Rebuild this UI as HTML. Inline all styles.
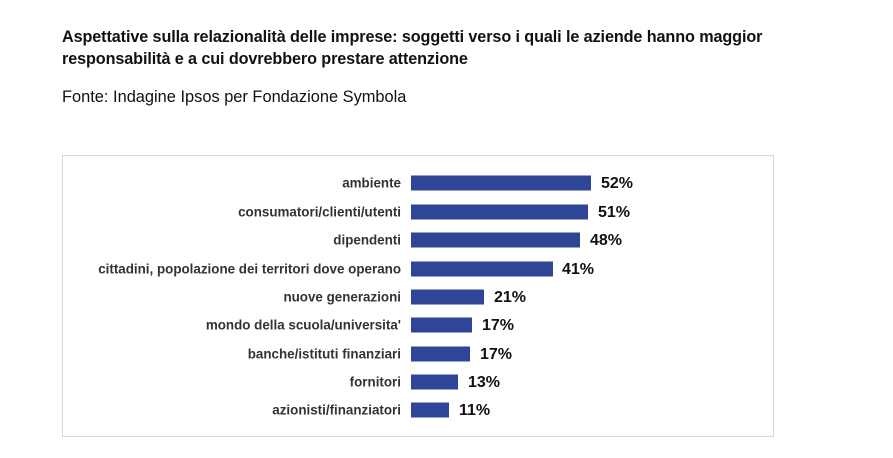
<!DOCTYPE html>
<html><head><meta charset="utf-8"><style>
body{margin:0;width:893px;height:458px;background:#fff;position:relative;overflow:hidden;font-family:"Liberation Sans",sans-serif;}
.t{position:absolute;left:62px;font-size:16px;color:#111;white-space:nowrap}
.box{position:absolute;left:62px;top:155px;width:712px;height:282px;border:1px solid #d8d8d8;box-sizing:border-box}
.lab{position:absolute;right:492px;font-size:13.4px;font-weight:bold;color:#333;white-space:nowrap;transform:translateY(-50%)}
.bar{position:absolute;left:411px;height:15px;background:#2e4598;transform:translateY(-50%)}
.v{position:absolute;font-size:16px;font-weight:bold;color:#111;transform:translateY(-50%)}
</style></head><body>
<div class="t" style="top:28px;font-weight:bold;font-size:16.2px;letter-spacing:-0.1px">Aspettative sulla relazionalità delle imprese: soggetti verso i quali le aziende hanno maggior</div>
<div class="t" style="top:50px;font-weight:bold;font-size:16.2px;letter-spacing:-0.1px">responsabilità e a cui dovrebbero prestare attenzione</div>
<div class="t" style="top:88px;font-size:16.4px">Fonte: Indagine Ipsos per Fondazione Symbola</div>
<div class="box"></div>
<div class="lab" style="top:183px">ambiente</div><div class="bar" style="top:183px;width:180px"></div><div class="v" style="top:184px;left:601px">52%</div>
<div class="lab" style="top:212px">consumatori/clienti/utenti</div><div class="bar" style="top:212px;width:177px"></div><div class="v" style="top:213px;left:598px">51%</div>
<div class="lab" style="top:240px">dipendenti</div><div class="bar" style="top:240px;width:169px"></div><div class="v" style="top:241px;left:590px">48%</div>
<div class="lab" style="top:269px">cittadini, popolazione dei territori dove operano</div><div class="bar" style="top:269px;width:142px"></div><div class="v" style="top:270px;left:562px">41%</div>
<div class="lab" style="top:297px">nuove generazioni</div><div class="bar" style="top:297px;width:73px"></div><div class="v" style="top:298px;left:494px">21%</div>
<div class="lab" style="top:325px">mondo della scuola/universita'</div><div class="bar" style="top:325px;width:61px"></div><div class="v" style="top:326px;left:482px">17%</div>
<div class="lab" style="top:354px">banche/istituti finanziari</div><div class="bar" style="top:354px;width:59px"></div><div class="v" style="top:355px;left:480px">17%</div>
<div class="lab" style="top:382px">fornitori</div><div class="bar" style="top:382px;width:47px"></div><div class="v" style="top:383px;left:468px">13%</div>
<div class="lab" style="top:410px">azionisti/finanziatori</div><div class="bar" style="top:410px;width:38px"></div><div class="v" style="top:411px;left:459px">11%</div>
</body></html>
